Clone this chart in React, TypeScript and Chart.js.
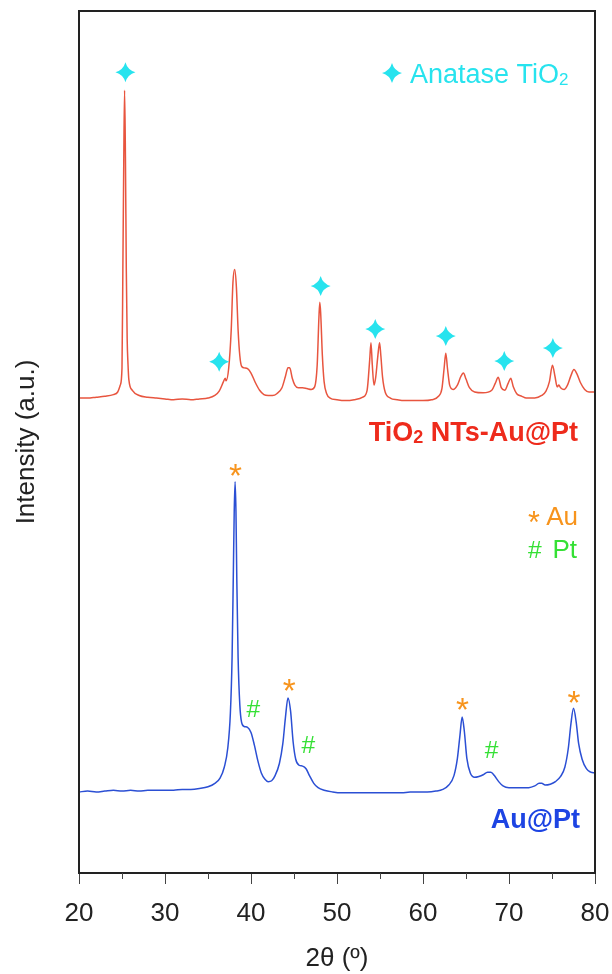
import React, { useEffect, useRef } from 'react';
import { Chart, registerables } from 'chart.js';

Chart.register(...registerables);

const FONT = "'Liberation Sans', Arial, Helvetica, sans-serif";

// ---- axis ----
const xMajorTicks = [20, 30, 40, 50, 60, 70, 80];
const xMinorTicks = [25, 35, 45, 55, 65, 75];

// ---- TiO2 NTs-Au@Pt pattern (offset upward) ----
const tio2Theta = [
  20.0, 21.0, 22.0, 23.0, 24.0, 24.5, 24.8, 25.0, 25.1, 25.2,
  25.3, 25.4, 25.5, 25.6, 25.7, 25.8, 26.2, 27.0, 28.0, 29.0,
  30.0, 31.0, 32.0, 33.0, 34.0, 35.0, 35.8, 36.3, 36.8, 37.0,
  37.1, 37.4, 37.7, 37.9, 38.1, 38.3, 38.5, 38.7, 38.9, 39.2,
  39.6, 40.0, 40.5, 41.0, 41.5, 42.0, 42.5, 43.0, 43.6, 44.0,
  44.3, 44.5, 44.8, 45.1, 45.5, 46.0, 46.5, 47.0, 47.4, 47.7,
  47.9, 48.0, 48.1, 48.3, 48.5, 48.8, 49.2, 50.0, 51.0, 52.0,
  53.0, 53.5, 53.8, 53.95, 54.1, 54.3, 54.5, 54.75, 54.95, 55.1,
  55.3, 55.6, 56.2, 57.0, 58.0, 59.0, 60.0, 61.0, 61.8, 62.2,
  62.45, 62.65, 62.85, 63.1, 63.5, 64.0, 64.4, 64.7, 65.0, 65.4,
  66.0, 67.0, 68.0, 68.4, 68.75, 69.1, 69.5, 69.9, 70.2, 70.5,
  70.9, 71.5, 72.0, 73.0, 73.8, 74.3, 74.7, 75.05, 75.35, 75.6,
  75.8, 76.0, 76.4, 76.8, 77.2, 77.55, 77.9, 78.3, 78.8, 79.3,
  80.0,
];
const tio2Intensity = [
  55.1, 55.1, 55.2, 55.3, 55.5, 55.8, 56.6, 58.6, 70.0, 82.0,
  90.8, 83.0, 70.0, 62.0, 59.0, 57.2, 56.0, 55.4, 55.2, 55.1,
  55.0, 54.9, 55.0, 54.9, 55.0, 55.1, 55.4, 55.9, 57.0, 57.4,
  57.1, 58.5, 63.0, 68.5, 70.0, 68.0, 63.0, 60.0, 58.8, 58.6,
  58.5, 58.0, 56.9, 56.0, 55.5, 55.4, 55.4, 55.6, 56.3, 57.6,
  58.6, 58.6, 57.4, 56.6, 56.3, 56.3, 56.2, 56.1, 56.4, 59.0,
  64.5, 66.2, 65.0, 60.0, 57.0, 55.6, 55.1, 54.9, 54.8, 54.9,
  55.2, 56.0, 59.5, 61.5, 59.0, 56.6, 57.5, 60.0, 61.5, 60.0,
  57.5, 55.8, 55.1, 54.9, 54.8, 54.8, 54.8, 54.9, 55.3, 56.2,
  58.5, 60.3, 58.5, 56.6, 56.1, 56.6, 57.6, 58.0, 57.3, 56.3,
  55.8, 55.7, 56.0, 56.8, 57.5, 56.3, 56.0, 56.8, 57.4, 56.4,
  55.6, 55.3, 55.1, 55.1, 55.4, 55.9, 57.0, 58.9, 57.6, 56.4,
  56.6, 56.3, 56.1, 56.6, 57.7, 58.4, 57.9, 56.9, 56.1, 55.8,
  55.8,
];

// ---- Au@Pt pattern ----
const auptTheta = [
  20.0, 21.0, 22.0, 23.0, 24.0, 25.0, 26.0, 27.0, 28.0, 29.0,
  30.0, 31.0, 32.0, 33.0, 34.0, 35.0, 35.8, 36.4, 36.9, 37.3,
  37.6, 37.8, 37.95, 38.05, 38.15, 38.25, 38.35, 38.5, 38.7, 38.9,
  39.2, 39.6, 40.0, 40.4, 40.8, 41.2, 41.6, 42.0, 42.4, 42.8,
  43.3, 43.7, 44.0, 44.3, 44.6, 44.9, 45.2, 45.6, 46.0, 46.4,
  46.8, 47.3, 47.8, 48.5, 49.5, 50.5, 51.5, 52.5, 53.5, 54.5,
  55.5, 56.5, 57.5, 58.5, 59.5, 60.5, 61.5, 62.3, 63.0, 63.6,
  64.0, 64.3, 64.55, 64.8, 65.1, 65.5, 66.0, 66.5, 67.0, 67.5,
  67.9, 68.3, 68.8, 69.3, 70.0, 70.8, 71.5, 72.3, 73.0, 73.5,
  73.8, 74.2, 74.8, 75.4, 76.0, 76.5, 76.9, 77.2, 77.5, 77.8,
  78.1, 78.5, 79.0, 79.5, 80.0,
];
const auptIntensity = [
  9.4, 9.5, 9.4, 9.5, 9.6, 9.5, 9.6, 9.5, 9.6, 9.6,
  9.6, 9.6, 9.7, 9.7, 9.8, 10.0, 10.4, 11.0, 12.3, 14.5,
  18.5, 25.0, 35.0, 42.0, 45.4, 42.0, 34.0, 25.0, 19.5, 17.5,
  17.0, 16.9, 16.3, 14.8, 13.0, 11.6, 10.9, 10.6, 10.7, 11.3,
  12.7, 15.0, 18.0, 20.3, 18.8, 15.2, 13.2, 12.5, 12.4, 12.1,
  11.3, 10.4, 9.9, 9.6, 9.4, 9.3, 9.3, 9.3, 9.3, 9.3,
  9.3, 9.3, 9.3, 9.4, 9.4, 9.4, 9.5, 9.7, 10.2, 11.3,
  13.3, 16.0, 18.1, 16.5, 13.3, 11.6, 11.1, 11.2, 11.4, 11.7,
  11.7, 11.3, 10.6, 10.1, 9.9, 9.9, 9.9, 9.9, 10.1, 10.4,
  10.4, 10.2, 10.3, 10.6, 11.2, 12.3, 14.5, 17.3, 19.1, 17.6,
  15.0, 13.2, 12.1, 11.7, 11.6,
];

// ---- phase markers ----
const anataseTheta = [25.4, 36.3, 48.1, 54.45, 62.65, 69.45, 75.1];
const anataseLevel = [92.9, 59.3, 68.1, 63.1, 62.3, 59.4, 60.9];
const auTheta = [38.2, 44.45, 64.6, 77.55];
const auLevel = [46.8, 21.8, 19.6, 20.4];
const ptTheta = [40.3, 46.7, 68.0];
const ptLevel = [19.1, 14.9, 14.3];

const RED_LINE = '#e8553f';
const BLUE_LINE = '#2b4fd4';
const RED_LABEL = '#ee2b1c';
const BLUE_LABEL = '#1d44e3';
const CYAN = '#27e3ee';
const ORANGE = '#f7941d';
const GREEN = '#35e035';
const AXIS = '#222222';

function drawSparkle(ctx: CanvasRenderingContext2D, cx: number, cy: number, r: number, color: string) {
  const c = r * 0.22;
  ctx.save();
  ctx.translate(cx, cy);
  ctx.beginPath();
  ctx.moveTo(0, -r);
  ctx.quadraticCurveTo(c, -c, r, 0);
  ctx.quadraticCurveTo(c, c, 0, r);
  ctx.quadraticCurveTo(-c, c, -r, 0);
  ctx.quadraticCurveTo(-c, -c, 0, -r);
  ctx.closePath();
  ctx.fillStyle = color;
  ctx.fill();
  ctx.restore();
}

function drawGlyph(ctx: CanvasRenderingContext2D, ch: string, cx: number, cy: number, targetH: number, color: string, weight = 'normal') {
  ctx.save();
  ctx.font = `${weight} 100px ${FONT}`;
  const m0 = ctx.measureText(ch);
  const h0 = m0.actualBoundingBoxAscent + m0.actualBoundingBoxDescent;
  const size = (100 * targetH) / h0;
  ctx.font = `${weight} ${size}px ${FONT}`;
  ctx.textAlign = 'left';
  ctx.textBaseline = 'alphabetic';
  const m = ctx.measureText(ch);
  const dx = cx - (m.actualBoundingBoxRight - m.actualBoundingBoxLeft) / 2;
  const dy = cy + (m.actualBoundingBoxAscent - m.actualBoundingBoxDescent) / 2;
  ctx.fillStyle = color;
  ctx.fillText(ch, dx, dy);
  ctx.restore();
}

type Part = { text: string; size: number; dy?: number };
function drawParts(ctx: CanvasRenderingContext2D, parts: Part[], x: number, baseline: number, color: string, weight: string, align: 'left' | 'right') {
  ctx.save();
  ctx.fillStyle = color;
  ctx.textAlign = 'left';
  ctx.textBaseline = 'alphabetic';
  const widths = parts.map((p) => {
    ctx.font = `${weight} ${p.size}px ${FONT}`;
    return ctx.measureText(p.text).width;
  });
  const total = widths.reduce((a, b) => a + b, 0);
  let cur = align === 'right' ? x - total : x;
  parts.forEach((p, i) => {
    ctx.font = `${weight} ${p.size}px ${FONT}`;
    ctx.fillText(p.text, cur, baseline + (p.dy || 0));
    cur += widths[i];
  });
  ctx.restore();
}

const overlayPlugin = {
  id: 'xrdOverlay',
  afterDraw(chart: any) {
    const { ctx, chartArea: a, scales } = chart;
    const xs = scales.x;
    const ys = scales.y;
    ctx.save();
    // frame
    ctx.strokeStyle = AXIS;
    ctx.lineWidth = 2;
    ctx.strokeRect(a.left, a.top, a.right - a.left, a.bottom - a.top);
    // minor ticks
    ctx.lineWidth = 1;
    ctx.strokeStyle = '#444';
    xMinorTicks.forEach((v) => {
      const px = Math.round(xs.getPixelForValue(v)) + 0.5;
      ctx.beginPath();
      ctx.moveTo(px, a.bottom);
      ctx.lineTo(px, a.bottom + 6);
      ctx.stroke();
    });
    ctx.restore();

    // phase markers
    anataseTheta.forEach((t, i) => drawSparkle(ctx, xs.getPixelForValue(t), ys.getPixelForValue(anataseLevel[i]), 10, CYAN));
    auTheta.forEach((t, i) => drawGlyph(ctx, '*', xs.getPixelForValue(t), ys.getPixelForValue(auLevel[i]), 12, ORANGE));
    ptTheta.forEach((t, i) => drawGlyph(ctx, '#', xs.getPixelForValue(t), ys.getPixelForValue(ptLevel[i]), 17, GREEN));

    // legend: anatase
    drawSparkle(ctx, a.right - 203, a.top + 62, 10, CYAN);
    drawParts(ctx, [{ text: 'Anatase TiO', size: 27 }, { text: '2', size: 17, dy: 2 }], a.right - 185, a.top + 72, CYAN, 'normal', 'left');

    // legend: Au / Pt
    drawGlyph(ctx, '*', a.right - 61, a.top + 506, 11, ORANGE);
    drawParts(ctx, [{ text: 'Au', size: 26 }], a.right - 17, a.top + 514, ORANGE, 'normal', 'right');
    drawGlyph(ctx, '#', a.right - 60, a.top + 538, 17, GREEN);
    drawParts(ctx, [{ text: 'Pt', size: 26 }], a.right - 18, a.top + 547, GREEN, 'normal', 'right');

    // series labels
    drawParts(ctx, [{ text: 'TiO', size: 27 }, { text: '2', size: 18, dy: 2 }, { text: ' NTs-Au@Pt', size: 27 }], a.right - 17, a.top + 430, RED_LABEL, 'bold', 'right');
    drawParts(ctx, [{ text: 'Au@Pt', size: 27 }], a.right - 15, a.top + 817, BLUE_LABEL, 'bold', 'right');
  },
};

export default function App() {
  const canvasRef = useRef<HTMLCanvasElement | null>(null);

  useEffect(() => {
    const canvas = canvasRef.current;
    if (!canvas) return;
    const chart = new Chart(canvas, {
      type: 'line',
      data: {
        datasets: [
          {
            label: 'TiO2 NTs-Au@Pt',
            data: tio2Theta.map((t, i) => ({ x: t, y: tio2Intensity[i] })),
            borderColor: RED_LINE,
            borderWidth: 1.5,
            pointRadius: 0,
            cubicInterpolationMode: 'monotone',
            fill: false,
          },
          {
            label: 'Au@Pt',
            data: auptTheta.map((t, i) => ({ x: t, y: auptIntensity[i] })),
            borderColor: BLUE_LINE,
            borderWidth: 1.5,
            pointRadius: 0,
            cubicInterpolationMode: 'monotone',
            fill: false,
          },
        ],
      },
      options: {
        animation: false,
        responsive: false,
        maintainAspectRatio: false,
        layout: { padding: { left: 0, right: 17, top: 11, bottom: 0 } },
        plugins: { legend: { display: false }, tooltip: { enabled: false } },
        scales: {
          x: {
            type: 'linear',
            min: 20,
            max: 80,
            afterFit: (s: any) => {
              s.height = 101;
              s.paddingLeft = 0;
              s.paddingRight = 0;
            },
            ticks: {
              stepSize: 5,
              autoSkip: false,
              maxRotation: 0,
              padding: 14,
              color: AXIS,
              font: { family: FONT, size: 26 },
              callback: (v: any) => (xMajorTicks.includes(Number(v)) ? String(v) : ''),
            },
            grid: {
              drawOnChartArea: false,
              drawTicks: true,
              tickLength: 11,
              lineWidth: 1,
              color: (c: any) => (c.tick && xMajorTicks.includes(c.tick.value) ? '#444' : 'rgba(0,0,0,0)'),
            },
            border: { display: false },
            title: {
              display: true,
              text: '2θ (º)',
              color: AXIS,
              font: { family: FONT, size: 26 },
              padding: { top: 0, bottom: 0 },
            },
          },
          y: {
            type: 'linear',
            min: 0,
            max: 100,
            afterFit: (s: any) => {
              s.width = 79;
              s.paddingTop = 0;
              s.paddingBottom = 0;
            },
            ticks: { display: false },
            grid: { display: false },
            border: { display: false },
            title: {
              display: true,
              text: 'Intensity (a.u.)',
              color: AXIS,
              font: { family: FONT, size: 26 },
              padding: { top: 11, bottom: 0 },
            },
          },
        },
      },
      plugins: [overlayPlugin],
    });
    return () => chart.destroy();
  }, []);

  return (
    <div style={{ position: 'fixed', left: 0, top: 0, width: 612, height: 974, background: '#fff' }}>
      <canvas ref={canvasRef} width={612} height={974} style={{ display: 'block', width: 612, height: 974 }} />
    </div>
  );
}
